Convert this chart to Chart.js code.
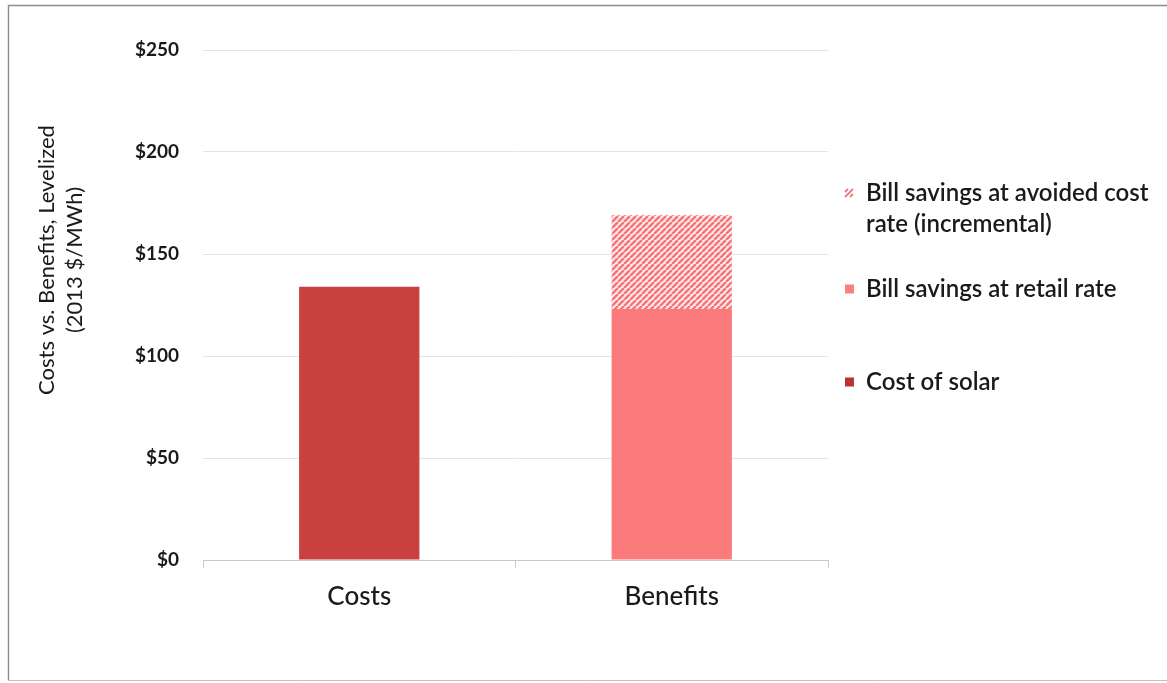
<!DOCTYPE html>
<html>
<head>
<meta charset="utf-8">
<script src="https://cdn.jsdelivr.net/npm/chart.js@4"></script>
<style>
html,body{margin:0;padding:0;background:#fff;}
#wrap{position:absolute;left:0;top:0;width:1167px;height:683px;}
</style>
</head>
<body>
<div id="wrap"><canvas id="c" width="1167" height="683"></canvas></div>
<script>
// ---- data ----
const categories = ['Costs', 'Benefits'];
const costOfSolar = [134, null];
const retailSavings = [null, 123];
const avoidedIncremental = [null, 46];
const yTickValues = [0, 50, 100, 150, 200, 250];
const yTitleLines = ['Costs vs. Benefits, Levelized', '(2013 $/MWh)'];
const legendLabels = ['Bill savings at avoided cost|rate (incremental)', 'Bill savings at retail rate', 'Cost of solar'];

const FONT = 'Lato, "Open Sans", sans-serif';

function makeHatch() {
  const s = 6;
  const c = document.createElement('canvas');
  c.width = s; c.height = s;
  const g = c.getContext('2d');
  g.fillStyle = '#fff1f1';
  g.fillRect(0, 0, s, s);
  g.strokeStyle = '#f7767a';
  g.lineWidth = 2.6;
  g.beginPath();
  for (let k = -1; k <= 1; k++) {
    g.moveTo(k * s, s);
    g.lineTo(k * s + s, 0);
  }
  g.stroke();
  return document.getElementById('c').getContext('2d').createPattern(c, 'repeat');
}
const hatch = makeHatch();

const framePlugin = {
  id: 'frame',
  beforeDraw(chart) {
    const ctx = chart.ctx;
    ctx.save();
    ctx.fillStyle = '#fff';
    ctx.fillRect(0, 0, chart.width, chart.height);
    ctx.strokeStyle = '#8c8c8c';
    ctx.lineWidth = 1.4;
    ctx.beginPath();
    ctx.moveTo(1167, 5.5); ctx.lineTo(8.5, 5.5); ctx.lineTo(8.5, 680.5);
    ctx.stroke();
    ctx.strokeStyle = '#c4c4c4';
    ctx.lineWidth = 1;
    ctx.beginPath();
    ctx.moveTo(8.5, 680.5); ctx.lineTo(1167, 680.5);
    ctx.stroke();
    ctx.restore();
  },
  afterDraw(chart) {
    const ctx = chart.ctx;
    ctx.save();
    // y-axis title
    ctx.fillStyle = '#1a1a1a';
    ctx.font = '22px ' + FONT;
    ctx.textAlign = 'center';
    ctx.textBaseline = 'middle';
    ctx.translate(0, 260);
    ctx.rotate(-Math.PI / 2);
    ctx.fillText(yTitleLines[0], 0, 47);
    ctx.fillText(yTitleLines[1], 0, 75);
    ctx.restore();

    // legend
    ctx.save();
    const items = [
      {ds: 2, ys: [193, 224]},
      {ds: 1, ys: [289]},
      {ds: 0, ys: [382]}
    ];
    ctx.font = '600 24px ' + FONT;
    ctx.textBaseline = 'middle';
    ctx.textAlign = 'left';
    items.forEach((it, i) => {
      const ds = chart.data.datasets[it.ds];
      const lines = legendLabels[i].split('|');
      const my = it.ys[0];
      if (it.ds === 2) {
        ctx.strokeStyle = '#f7767a';
        ctx.lineWidth = 1.8;
        ctx.beginPath();
        ctx.moveTo(845, my + 4); ctx.lineTo(853, my - 4);
        ctx.moveTo(845, my - 1); ctx.lineTo(848, my - 4);
        ctx.moveTo(850, my + 4); ctx.lineTo(853, my + 1);
        ctx.stroke();
      } else {
        ctx.fillStyle = ds.legendColor;
        ctx.fillRect(845, my - 4.5, 9, 9);
      }
      ctx.fillStyle = '#1a1a1a';
      lines.forEach((t, j) => ctx.fillText(t, 866, it.ys[j]));
    });
    ctx.restore();
  }
};

new Chart(document.getElementById('c'), {
  type: 'bar',
  data: {
    labels: categories,
    datasets: [
      {label: 'Cost of solar', data: costOfSolar, backgroundColor: '#c9403f', legendColor: '#b83333'},
      {label: 'Bill savings at retail rate', data: retailSavings, backgroundColor: '#fb7b7c', legendColor: '#f98080'},
      {label: 'Bill savings at avoided cost rate (incremental)', data: avoidedIncremental, backgroundColor: hatch, legendColor: '#f7767a'}
    ]
  },
  options: {
    responsive: false,
    animation: false,
    layout: {padding: {left: 0, right: 339, top: 50, bottom: 0}},
    datasets: {bar: {categoryPercentage: 1, barPercentage: 0.385, borderWidth: 0}},
    plugins: {legend: {display: false}, tooltip: {enabled: false}},
    scales: {
      x: {
        stacked: true,
        grid: {display: true, drawOnChartArea: false, drawTicks: true, tickLength: 8, color: '#c8ccd6', offset: true},
        border: {display: true, color: '#c3c8d6', width: 1},
        ticks: {color: '#1a1a1a', font: {family: FONT, size: 26, weight: 500}, padding: 13},
        afterFit(s) { s.height = 123; }
      },
      y: {
        stacked: true,
        min: 0, max: 250,
        afterBuildTicks(s) { s.ticks = yTickValues.map(v => ({value: v})); },
        grid: {color: '#e3e5ee', drawTicks: false, lineWidth: 1},
        border: {display: false},
        ticks: {
          color: '#1a1a1a',
          font: {family: FONT, size: 19, weight: 'bold'},
          padding: 24,
          callback: v => '$' + v
        },
        afterFit(s) { s.width = 203; }
      }
    }
  },
  plugins: [framePlugin]
});
</script>
</body>
</html>
